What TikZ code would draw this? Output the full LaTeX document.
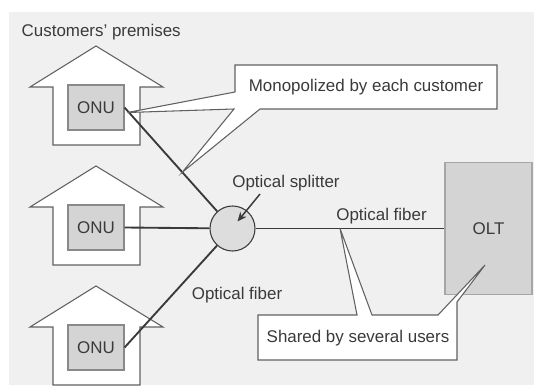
\documentclass[tikz,border=0pt]{standalone}
\usepackage{fontspec}
\setsansfont{Liberation Sans}
\usetikzlibrary{calc,arrows.meta}
\definecolor{ink}{HTML}{3A3A3A}
\definecolor{bgray}{HTML}{F0F0F0}
\definecolor{boxgray}{HTML}{D4D4D4}

\begin{document}
\begin{tikzpicture}[x=0.75pt, y=-0.75pt, font=\sffamily\fontsize{12.7}{15}\selectfont, text=ink,
        house/.style={draw=ink!80, fill=white, line width=0.8pt},
        onu/.style={draw=ink!60, fill=boxgray, line width=0.8pt, minimum width=42pt, minimum height=33.75pt},
        fiber/.style={draw=ink, line width=1.4pt},
        callout/.style={draw=ink!80, fill=white, line width=0.8pt}]
        \useasboundingbox (0,0) rectangle (534,385);
        \clip (0,0) rectangle (534,385);
        \fill[bgray] (9,12) rectangle (534,385);
        \foreach \y in {0,120,240}
            \draw[house] (53,145+\y) -- (53,87+\y) -- (30,87+\y) -- (96,46+\y) -- (163,87+\y) -- (140,87+\y) -- (140,145+\y) -- cycle;
        \foreach \i/\y in {1/107.5,2/227.5,3/347.5}
            \node[onu] (onu\i) at (96,\y) {ONU};
        \node[circle, draw=ink, fill=boxgray!80, line width=0.8pt, minimum size=33.75pt, inner sep=0pt] (split) at (232.5,228.5) {};
        \node[draw=ink!45, fill=boxgray, line width=0.8pt, minimum width=65.25pt, minimum height=99pt] (olt) at (488.5,228.5) {OLT};
        \foreach \i in {1,2,3} \draw[fiber] (onu\i.east) -- (split);
        \draw[fiber] (split) -- (olt);
        \node[anchor=west] (prem) at (17,32) {Customers' premises};
        \node[inner sep=2pt] (splab) at (286,183) {Optical splitter};
        \coordinate (splfrom) at (260,194);
        \coordinate (splarr) at (237.5,221.5);
        \draw[ink, line width=1.1pt, -{Stealth[length=7pt,width=6pt]}] (splfrom) -- (splarr);
        \node (fib1) at (381.5,216) {Optical fiber};
        \node (fib2) at (237,295) {Optical fiber};
        \coordinate (tipa) at ($(onu1.east)+(3,5)$);
        \coordinate (tipb) at ($(onu1.east)!0.535!(split)$);
        \coordinate (tipc) at ($(split)!0.42!(olt)$);
        \coordinate (tipd) at (485,265);
        \draw[callout] (235,65) -- (497,65) -- (497,109) -- (260,109) -- (tipb) -- (234,109) -- (tipa) -- (235,92) -- cycle;
        \node (mono) at (366,87) {Monopolized by each customer};
        \draw[callout] (258,315) -- (357,315) -- (tipc) -- (372,315) -- (438,315) -- (tipd) -- (457,302) -- (457,360) -- (258,360) -- cycle;
        \node (shared) at (358,338) {Shared by several users};
    \end{tikzpicture}
\end{document}
